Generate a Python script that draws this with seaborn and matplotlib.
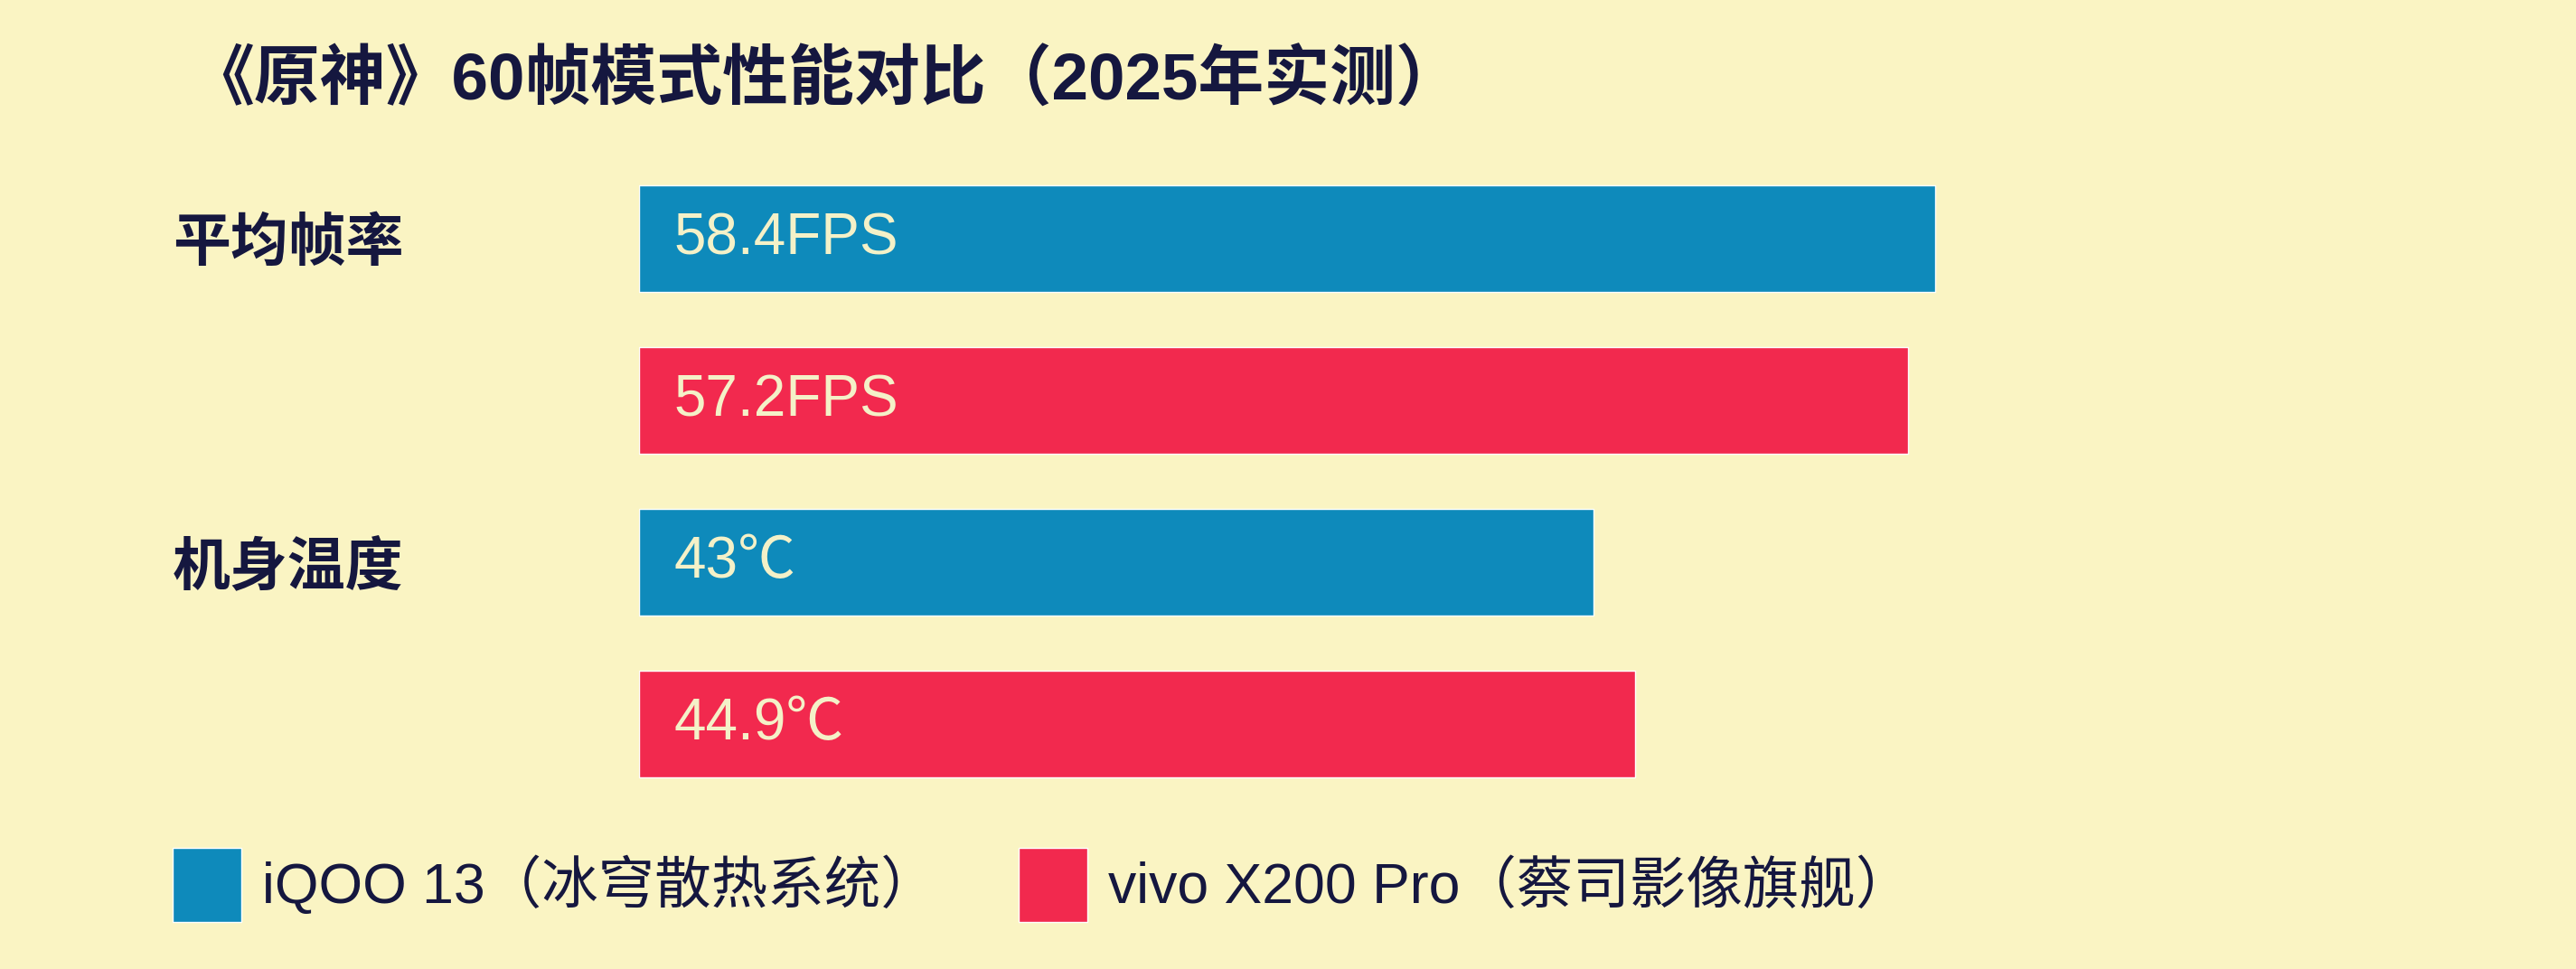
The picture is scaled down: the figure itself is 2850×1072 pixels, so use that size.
import matplotlib.pyplot as plt
import numpy as np
import pandas as pd
import seaborn as sns

# 《原神》60帧模式性能对比 - 数据
metrics = ['平均帧率', '机身温度']
units = ['FPS', '℃']
phones = ['iQOO 13（冰穹散热系统）', 'vivo X200 Pro（蔡司影像旗舰）']
iqoo_values = [58.4, 43]
vivo_values = [57.2, 44.9]
colors = ['#0e8abb', '#f2294e']

df = pd.DataFrame({
    'metric': metrics * 2,
    'phone': [phones[0]] * len(metrics) + [phones[1]] * len(metrics),
    'value': iqoo_values + vivo_values,
})

bg = '#faf4c3'
navy = '#15173f'
label_color = '#f4f1c8'

sns.set_theme(style='white', rc={'axes.facecolor': bg, 'figure.facecolor': bg})
plt.rcParams['font.family'] = ['Liberation Sans', 'Noto Sans CJK SC']

fig = plt.figure(figsize=(28.5, 10.72), dpi=100)
ax = fig.add_axes([0.2481, 0.1691, 0.5168, 0.6679])

sns.barplot(data=df, x='value', y='metric', hue='phone', orient='h',
            palette=colors, saturation=1, width=1.0, gap=0.34, dodge=True, ax=ax)
ax.set_xlim(0, 60)
ax.set_ylim(len(metrics) - 0.5, -0.5)

# 数值标签放在柱子内侧左边
for container, vals in zip(ax.containers, [iqoo_values, vivo_values]):
    for bar, v, u in zip(container, vals, units):
        ax.annotate(f'{v:g}{u}', xy=(bar.get_x(), bar.get_y() + bar.get_height() / 2),
                    xytext=(27.4, 0), textcoords='offset points',
                    ha='left', va='center', fontsize=46, color=label_color)

# 类别标签对齐到每组第一根柱子
ax.set_yticks(np.arange(len(metrics)) - 0.25, metrics)
ax.tick_params(axis='y', length=0, pad=371.5)
for t in ax.get_yticklabels():
    t.set_ha('left')
    t.set_fontsize(46)
    t.set_fontweight('bold')
    t.set_color(navy)
ax.set_xticks([])
ax.set_xlabel('')
ax.set_ylabel('')
sns.despine(ax=ax, left=True, bottom=True)

fig.text(208 / 2850, 1 - 91 / 1072, '《原神》60帧模式性能对比（2025年实测）',
         ha='left', va='center', fontsize=52.5, fontweight='bold', color=navy)

sns.move_legend(ax, 'center left', bbox_to_anchor=(191 / 2850, 0.0868),
                bbox_transform=fig.transFigure, ncol=2, frameon=False, title=None,
                fontsize=45, labelcolor=navy, handlelength=1.22, handleheight=1.64,
                handletextpad=0.37, columnspacing=1.44, borderpad=0, borderaxespad=0)

fig.savefig('out.png', dpi=100, facecolor=bg)
